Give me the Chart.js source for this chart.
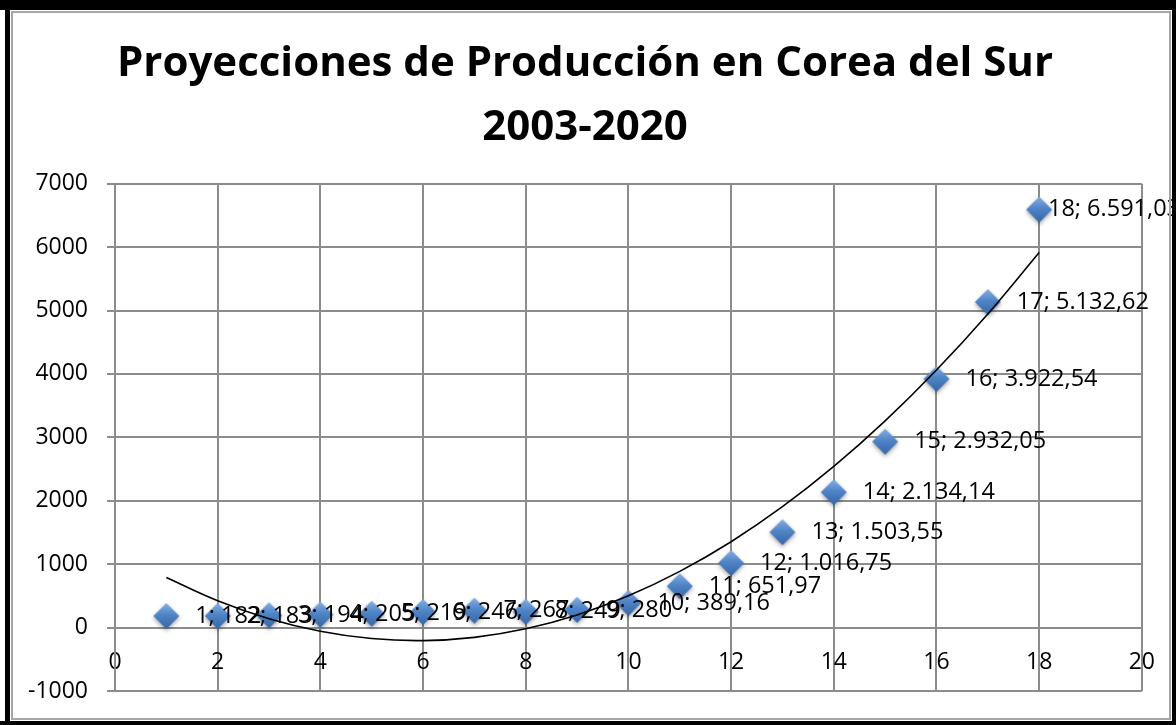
<!DOCTYPE html>
<html lang="es">
<head>
    <meta charset="UTF-8">
    <title>Proyecciones de Producción en Corea del Sur</title>
    <script src="https://cdn.jsdelivr.net/npm/chart.js"></script>
    <style>
        html, body { margin: 0; padding: 0; background: #fff; }
        #wrap { width: 1176px; height: 725px; }
    </style>
</head>
<body>
    <div id="wrap"><canvas id="chart" width="1176" height="725"></canvas></div>

    <script>
        // periods 1..18 (2003-2020)
        const periods = [1, 2, 3, 4, 5, 6, 7, 8, 9, 10, 11, 12, 13, 14, 15, 16, 17, 18];
        const production = [182, 183, 194, 205, 219, 246, 267, 249, 280, 389.16, 651.97, 1016.75,
                            1503.55, 2134.14, 2932.05, 3922.54, 5132.62, 6591.03];
        // polynomial trend line at each period
        const trend = [789, 423, 141, -57, -173, -205, -154, -19, 199, 501, 886, 1354,
                       1906, 2541, 3259, 4061, 4946, 5915];
        const xRange = [0, 20], xStep = 2;
        const yRange = [-1000, 7000], yStep = 1000;
        const titleLines = ['Proyecciones de Producción en Corea del Sur', '2003-2020'];

        Chart.defaults.font.family = '"Open Sans", sans-serif';
        Chart.defaults.color = '#000';

        // spanish style number: 6.591,03
        function fmt(v) {
            const parts = Number.isInteger(v) ? [String(v)] : v.toFixed(2).split('.');
            const intPart = parts[0].replace(/\B(?=(\d{3})+(?!\d))/g, '.');
            return parts.length > 1 ? intPart + ',' + parts[1] : intPart;
        }

        function makeDiamond(r) {
            const pad = 6;
            const size = 2 * r + pad * 2;
            const c = document.createElement('canvas');
            c.width = size; c.height = size;
            const g = c.getContext('2d');
            const cx = size / 2, cy = size / 2;
            g.shadowColor = 'rgba(0,0,0,0.35)';
            g.shadowBlur = 4;
            g.shadowOffsetY = 2;
            const grad = g.createLinearGradient(0, cy - r, 0, cy + r);
            grad.addColorStop(0, '#86aee3');
            grad.addColorStop(0.45, '#4f85c8');
            grad.addColorStop(1, '#3765a3');
            g.beginPath();
            g.moveTo(cx, cy - r);
            g.lineTo(cx + r, cy);
            g.lineTo(cx, cy + r);
            g.lineTo(cx - r, cy);
            g.closePath();
            g.fillStyle = grad;
            g.fill();
            return c;
        }

        const pointLabels = {
            id: 'pointLabels',
            afterDatasetsDraw(chart) {
                const meta = chart.getDatasetMeta(1);
                const ctx = chart.ctx;
                ctx.save();
                ctx.font = '23.5px "Open Sans"';
                ctx.fillStyle = '#000';
                ctx.textBaseline = 'middle';
                meta.data.forEach((pt, i) => {
                    const text = periods[i] + '; ' + fmt(production[i]);
                    const w = ctx.measureText(text).width;
                    const x = Math.min(pt.x + 29, chart.width - w + 4);
                    ctx.fillText(text, x, pt.y);
                });
                ctx.restore();
            }
        };

        const frame = {
            id: 'frame',
            beforeDraw(chart) {
                const ctx = chart.ctx;
                ctx.save();
                ctx.fillStyle = '#fff';
                ctx.fillRect(0, 0, chart.width, chart.height);
                ctx.restore();
            },
            afterDraw(chart) {
                const ctx = chart.ctx, w = chart.width, h = chart.height;
                ctx.save();
                ctx.fillStyle = '#000';
                ctx.fillRect(0, 0, w, 10);
                ctx.fillRect(5, 0, 5, h);
                ctx.fillRect(0, h - 4, w, 4);
                ctx.fillRect(w - 4, 0, 4, h);
                ctx.strokeStyle = '#a6a6a6';
                ctx.lineWidth = 2;
                ctx.strokeRect(12, 12, w - 18, h - 18);
                ctx.restore();
            }
        };

        const ctx = document.getElementById('chart').getContext('2d');
        new Chart(ctx, {
            type: 'scatter',
            data: {
                datasets: [
                    {
                        label: 'Tendencia',
                        type: 'line',
                        data: periods.map((x, i) => ({ x: x, y: trend[i] })),
                        borderColor: '#000',
                        borderWidth: 1.6,
                        pointRadius: 0,
                        tension: 0.4,
                        fill: false,
                        order: 0
                    },
                    {
                        label: 'Producción',
                        data: periods.map((x, i) => ({ x: x, y: production[i] })),
                        pointStyle: makeDiamond(13),
                        pointRadius: 13,
                        order: 1
                    }
                ]
            },
            options: {
                responsive: false,
                animation: false,
                layout: { padding: { top: 0, left: 24, right: 30, bottom: 34 } },
                plugins: {
                    legend: { display: false },
                    tooltip: { enabled: false },
                    title: {
                        display: true,
                        text: titleLines,
                        color: '#000',
                        font: { size: 42, weight: 'bold', lineHeight: 1.52 },
                        padding: { top: 32, bottom: 24 }
                    }
                },
                scales: {
                    x: {
                        type: 'linear',
                        min: xRange[0],
                        max: xRange[1],
                        position: { y: 0 },
                        ticks: {
                            stepSize: xStep,
                            font: { size: 23 },
                            padding: 21,
                            maxRotation: 0,
                            callback: v => String(v)
                        },
                        grid: { color: '#8c8c8c', lineWidth: 2, drawTicks: false },
                        border: { color: '#8c8c8c', width: 2 }
                    },
                    y: {
                        min: yRange[0],
                        max: yRange[1],
                        ticks: {
                            stepSize: yStep,
                            font: { size: 23 },
                            padding: 19,
                            callback: v => String(v)
                        },
                        grid: { color: '#8c8c8c', lineWidth: 2, tickLength: 8 },
                        border: { color: '#8c8c8c', width: 2 },
                        afterFit(scale) { scale.width = 91; }
                    }
                }
            },
            plugins: [frame, pointLabels]
        });
    </script>
</body>
</html>
